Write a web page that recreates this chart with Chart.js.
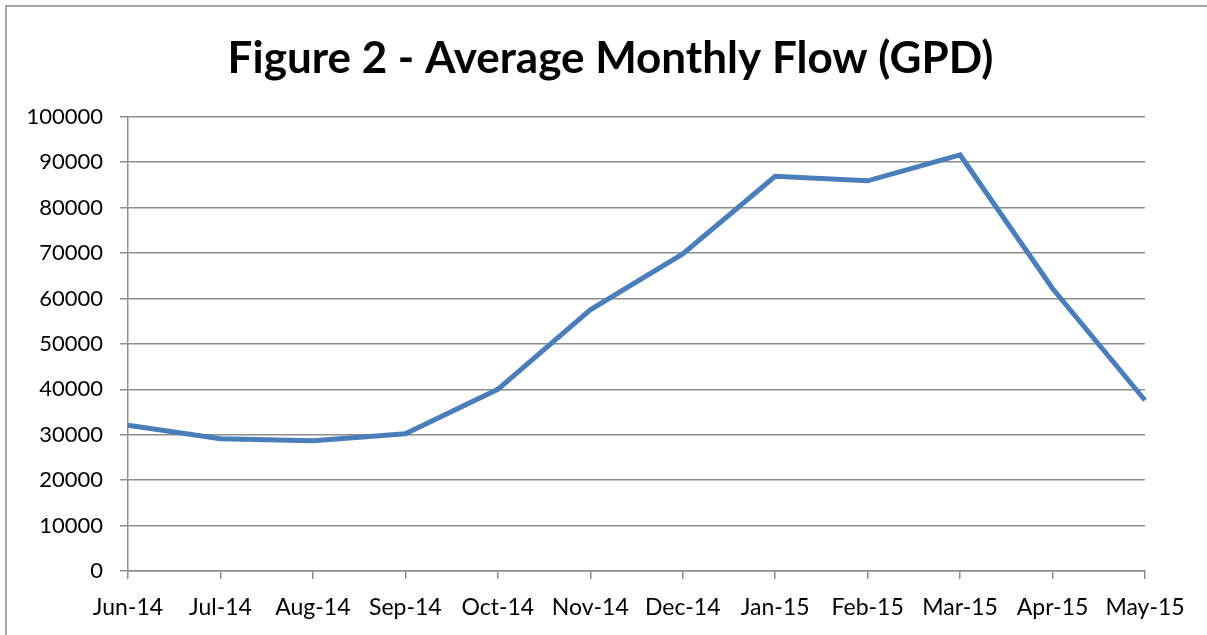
<!DOCTYPE html>
<html lang="en">
<head>
    <meta charset="UTF-8">
    <title>Figure 2 - Average Monthly Flow (GPD)</title>
    <script src="https://cdn.jsdelivr.net/npm/chart.js"></script>
    <style>
        html, body { margin: 0; padding: 0; background: #fff; overflow: hidden; }
        #wrap { position: relative; width: 1207px; height: 635px; }
        #frame { position: absolute; left: 5px; top: 5px; width: 1210px; height: 640px;
                 border-left: 2px solid #a6a6a6; border-top: 2px solid #a6a6a6; box-sizing: border-box; }
        canvas { position: absolute; left: 0; top: 0; }
    </style>
</head>
<body>
<div id="wrap">
    <div id="frame"></div>
    <canvas id="flowChart" width="1207" height="635"></canvas>
</div>

<script>
// Average monthly flow, gallons per day
const months = ['Jun-14', 'Jul-14', 'Aug-14', 'Sep-14', 'Oct-14', 'Nov-14',
                'Dec-14', 'Jan-15', 'Feb-15', 'Mar-15', 'Apr-15', 'May-15'];
const flowGpd = [32100, 29100, 28700, 30200, 40000, 57500,
                 69800, 86900, 85900, 91600, 62200, 37600];
const yMin = 0, yMax = 100000, yStep = 10000;

const fontFamily = 'Lato, "Open Sans", sans-serif';
const gridGray = '#8c8c8c';

const ctx = document.getElementById('flowChart').getContext('2d');
new Chart(ctx, {
    type: 'line',
    data: {
        labels: months,
        datasets: [{
            label: 'Average Monthly Flow',
            data: flowGpd,
            borderColor: '#4a7ebb',
            borderWidth: 5,
            pointRadius: 0,
            tension: 0,
            fill: false,
        }]
    },
    options: {
        responsive: false,
        animation: false,
        layout: { padding: { left: 14, right: 0, top: 0, bottom: 0 } },
        plugins: {
            legend: { display: false },
            tooltip: { enabled: false },
            title: {
                display: true,
                text: 'Figure 2 - Average Monthly Flow (GPD)',
                color: '#000',
                font: { family: fontFamily, size: 44, weight: 'bold', lineHeight: 1.2 },
                padding: { top: 32, bottom: 32 }
            }
        },
        scales: {
            x: {
                offset: false,
                grid: { drawOnChartArea: false, drawTicks: true, tickLength: 8, color: gridGray, lineWidth: 1.5 },
                border: { color: gridGray, width: 1.5 },
                ticks: { color: '#000', font: { family: fontFamily, size: 23 }, padding: 15, maxRotation: 0, autoSkip: false },
                afterFit: function(scale) {
                    scale.height = 64;
                    scale.paddingRight = 62;
                }
            },
            y: {
                min: yMin,
                max: yMax,
                grid: { color: gridGray, lineWidth: 1.5, tickLength: 8 },
                border: { color: gridGray, width: 1.5 },
                ticks: {
                    stepSize: yStep,
                    color: '#000',
                    font: { family: fontFamily, size: 22 },
                    padding: 17,
                    callback: function(value) { return String(value); }
                },
                afterFit: function(scale) { scale.width = 114; }
            }
        }
    }
});
</script>
</body>
</html>
